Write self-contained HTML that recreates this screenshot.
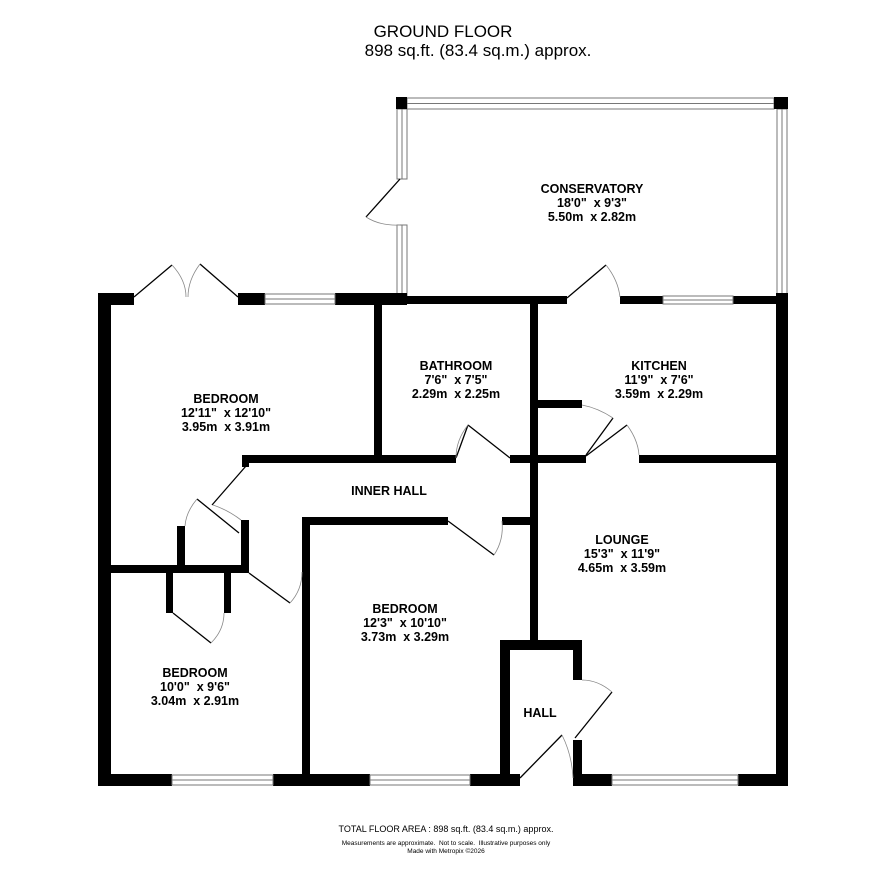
<!DOCTYPE html>
<html><head><meta charset="utf-8"><style>
html,body{margin:0;padding:0;background:#fff;}
svg{display:block;}
text{font-family:"Liberation Sans",Arial,sans-serif;fill:#000;text-anchor:middle;white-space:pre;}
.l{font-weight:bold;font-size:12.5px;}
</style></head><body>
<svg width="886" height="884" viewBox="0 0 886 884" xmlns="http://www.w3.org/2000/svg" xml:space="preserve">
<text x="443" y="37" font-size="17">GROUND FLOOR</text>
<text x="478" y="56" font-size="17">898 sq.ft. (83.4 sq.m.) approx.</text>

<g fill="#fff" stroke="#777" stroke-width="1">
<rect x="407" y="98" width="367" height="11"/>
<line x1="407" y1="103.5" x2="774" y2="103.5"/>
<rect x="397" y="109" width="10" height="70"/>
<line x1="402" y1="109" x2="402" y2="179"/>
<rect x="397" y="225" width="10" height="72"/>
<line x1="402" y1="225" x2="402" y2="297"/>
<rect x="777" y="109" width="10" height="188"/>
<line x1="782" y1="109" x2="782" y2="297"/>
</g>
<rect x="396" y="97" width="11" height="12" fill="#000"/>
<rect x="774" y="97" width="14" height="12" fill="#000"/>

<g fill="#000">
<rect x="98" y="293" width="36" height="12"/>
<rect x="238" y="293" width="27" height="12"/>
<rect x="335" y="293" width="72" height="12"/>
<rect x="405" y="296" width="162" height="8"/>
<rect x="620" y="296" width="43" height="8"/>
<rect x="733" y="296" width="55" height="8"/>
<rect x="98" y="293" width="13" height="493"/>
<rect x="776" y="293" width="12" height="493"/>
<rect x="374" y="305" width="8" height="158"/>
<rect x="242" y="455" width="214" height="8"/>
<rect x="242" y="455" width="7" height="12"/>
<rect x="510" y="455" width="76" height="8"/>
<rect x="639" y="455" width="149" height="8"/>
<rect x="530" y="297" width="8" height="348"/>
<rect x="538" y="400" width="44" height="8"/>
<rect x="302" y="517" width="146" height="8"/>
<rect x="502" y="517" width="30" height="8"/>
<rect x="302" y="517" width="8" height="268"/>
<rect x="177" y="526" width="8" height="44"/>
<rect x="241" y="520" width="8" height="53"/>
<rect x="98" y="565" width="151" height="8"/>
<rect x="166" y="573" width="7" height="40"/>
<rect x="224" y="573" width="7" height="40"/>
<rect x="500" y="640" width="82" height="10"/>
<rect x="500" y="640" width="10" height="145"/>
<rect x="573" y="640" width="9" height="40"/>
<rect x="573" y="740" width="9" height="45"/>
<rect x="98" y="774" width="74" height="12"/>
<rect x="273" y="774" width="97" height="12"/>
<rect x="470" y="774" width="50" height="12"/>
<rect x="573" y="774" width="39" height="12"/>
<rect x="738" y="774" width="50" height="12"/>
</g>
<g fill="#fff" stroke="#777" stroke-width="1">
<rect x="265" y="294" width="70" height="10"/><line x1="265" y1="299" x2="335" y2="299"/>
<rect x="663" y="296" width="70" height="8"/><line x1="663" y1="300" x2="733" y2="300"/>
<rect x="172" y="775" width="101" height="10"/><line x1="172" y1="780" x2="273" y2="780"/>
<rect x="370" y="775" width="100" height="10"/><line x1="370" y1="780" x2="470" y2="780"/>
<rect x="612" y="775" width="126" height="10"/><line x1="612" y1="780" x2="738" y2="780"/>
</g>
<g fill="none" stroke="#000" stroke-width="1.3">
<line x1="134" y1="297" x2="172" y2="265"/><line x1="238" y1="297" x2="200" y2="264"/>
<line x1="400" y1="179" x2="366" y2="217"/>
<line x1="567" y1="298" x2="606" y2="265"/>
<line x1="456" y1="458" x2="468" y2="425"/><line x1="468" y1="425" x2="510" y2="458"/>
<line x1="586" y1="455" x2="613" y2="418"/><line x1="586" y1="456" x2="627" y2="425"/>
<line x1="246" y1="466" x2="212" y2="505"/>
<line x1="197" y1="499" x2="239" y2="533"/>
<line x1="249" y1="573" x2="290" y2="603"/>
<line x1="173" y1="613" x2="211" y2="643"/>
<line x1="448" y1="521" x2="494" y2="555"/>
<line x1="575" y1="738" x2="612" y2="692"/>
<line x1="520" y1="778" x2="562" y2="735"/>
</g>
<g fill="none" stroke="#888" stroke-width="0.8">
<path d="M172 265 Q186 280 186 297"/><path d="M200 264 Q188 280 188 297"/>
<path d="M366 217 Q380 226 400 225"/>
<path d="M606 265 Q618 280 620 297"/>
<path d="M468 425 Q456 440 456 458"/>
<path d="M613 418 Q598 408 582 405"/><path d="M627 425 Q638 440 639 455"/>
<path d="M197 499 Q186 512 185 526"/><path d="M213 505 Q228 510 241 520"/>
<path d="M290 603 Q302 590 302 572"/>
<path d="M211 643 Q224 630 224 613"/>
<path d="M494 555 Q504 540 502 521"/>
<path d="M612 692 Q598 680 582 680"/>
<path d="M562 735 Q572 755 573 778"/>
</g>

<text class="l" x="592" y="193">CONSERVATORY</text>
<text class="l" x="592" y="207">18'0"  x 9'3"</text>
<text class="l" x="592" y="221">5.50m  x 2.82m</text>
<text class="l" x="226" y="403">BEDROOM</text>
<text class="l" x="226" y="417">12'11"  x 12'10"</text>
<text class="l" x="226" y="431">3.95m  x 3.91m</text>
<text class="l" x="456" y="370">BATHROOM</text>
<text class="l" x="456" y="384">7'6"  x 7'5"</text>
<text class="l" x="456" y="398">2.29m  x 2.25m</text>
<text class="l" x="659" y="370">KITCHEN</text>
<text class="l" x="659" y="384">11'9"  x 7'6"</text>
<text class="l" x="659" y="398">3.59m  x 2.29m</text>
<text class="l" x="389" y="495">INNER HALL</text>
<text class="l" x="622" y="544">LOUNGE</text>
<text class="l" x="622" y="558">15'3"  x 11'9"</text>
<text class="l" x="622" y="572">4.65m  x 3.59m</text>
<text class="l" x="405" y="613">BEDROOM</text>
<text class="l" x="405" y="627">12'3"  x 10'10"</text>
<text class="l" x="405" y="641">3.73m  x 3.29m</text>
<text class="l" x="195" y="677">BEDROOM</text>
<text class="l" x="195" y="691">10'0"  x 9'6"</text>
<text class="l" x="195" y="705">3.04m  x 2.91m</text>
<text class="l" x="540" y="717">HALL</text>
<text x="446" y="832" font-size="9">TOTAL FLOOR AREA : 898 sq.ft. (83.4 sq.m.) approx.</text>
<text x="446" y="845" font-size="6.5">Measurements are approximate.  Not to scale.  Illustrative purposes only</text>
<text x="446" y="853" font-size="6.5">Made with Metropix ©2026</text>
</svg>
</body></html>
